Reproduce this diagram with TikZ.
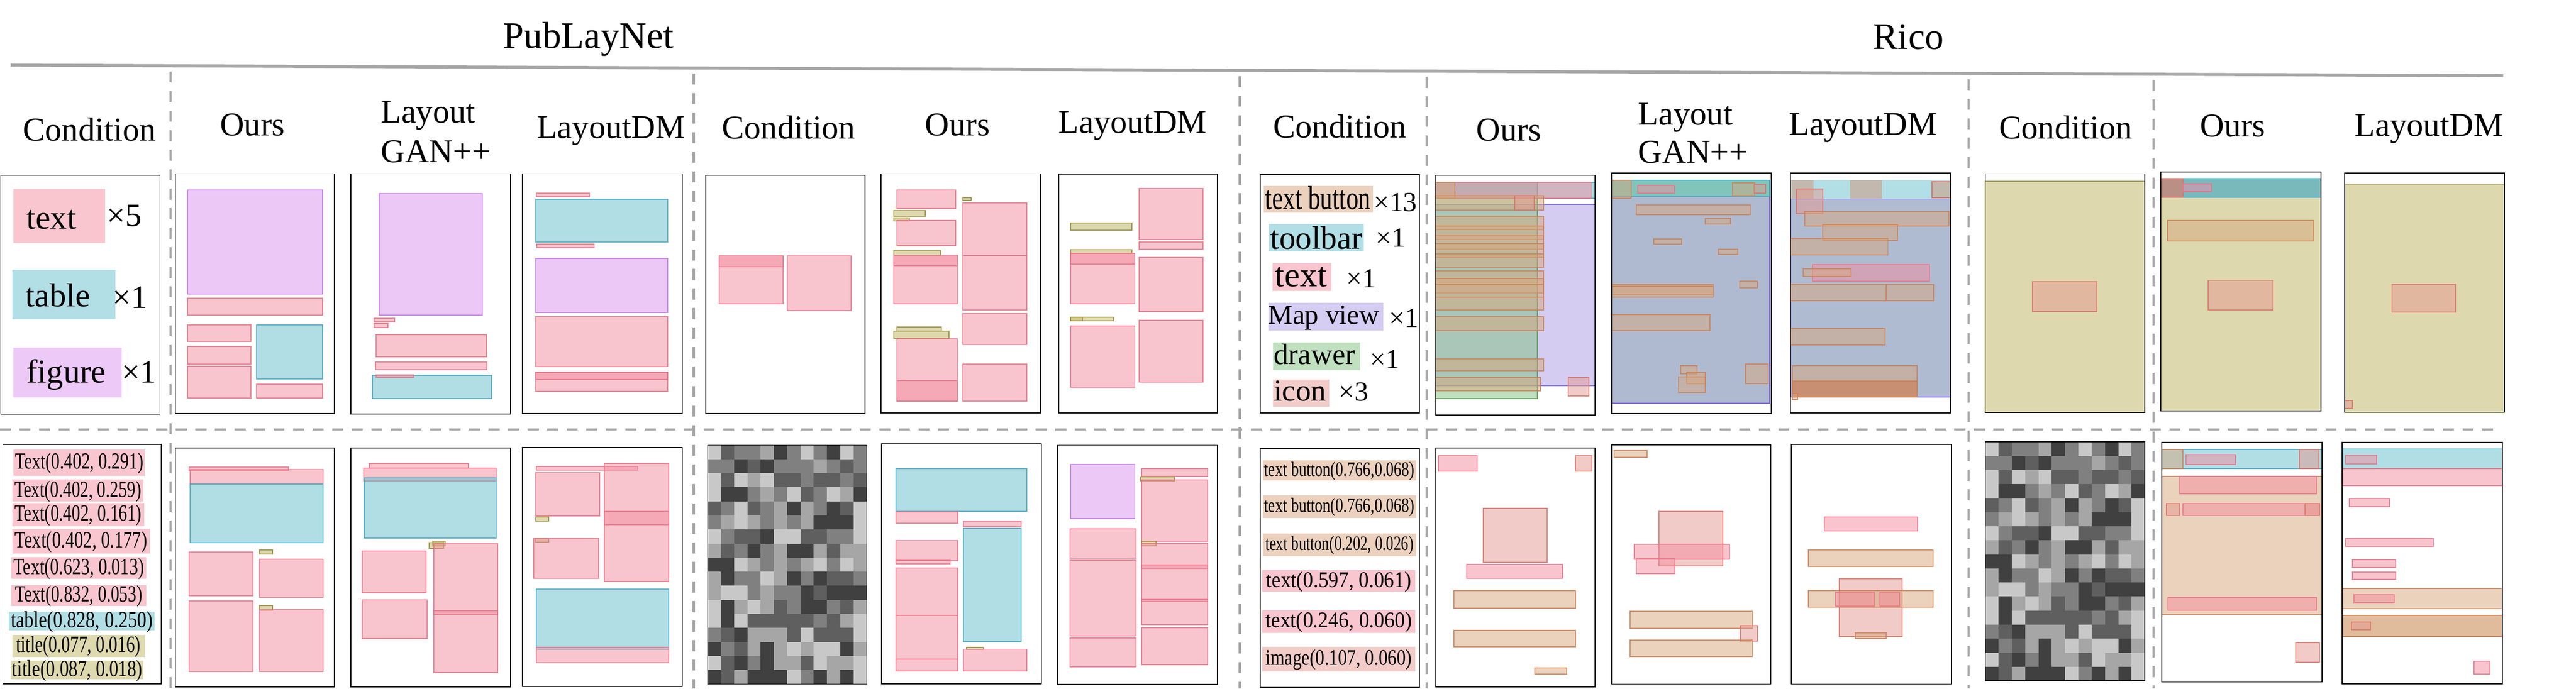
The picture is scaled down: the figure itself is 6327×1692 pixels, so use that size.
\documentclass[tikz,border=0pt]{standalone}
\usepackage{fontspec}
\usepackage{graphicx}
\setmainfont{Liberation Serif}
\newcommand\fsz[1]{\fontsize{#1}{#1}\selectfont}
\definecolor{pinkB}{RGB}{243,141,159}\definecolor{pinkS}{RGB}{235,115,135}
\definecolor{tealB}{RGB}{101,189,205}\definecolor{tealS}{RGB}{70,170,195}
\definecolor{purB}{RGB}{217,147,239}\definecolor{purS}{RGB}{195,120,230}
\definecolor{oliB}{RGB}{189,179,95}\definecolor{oliS}{RGB}{150,140,60}
\definecolor{peaB}{RGB}{215,167,125}\definecolor{peaS}{RGB}{205,130,85}
\definecolor{lavB}{RGB}{171,155,229}\definecolor{lavS}{RGB}{120,105,225}
\definecolor{greB}{RGB}{129,193,129}\definecolor{greS}{RGB}{80,160,80}
\definecolor{salB}{RGB}{229,153,145}\definecolor{salS}{RGB}{220,115,105}
\definecolor{pinkL}{HTML}{F9C6CF}\definecolor{tealL}{HTML}{B2DEE6}
\definecolor{purL}{HTML}{ECC9F7}\definecolor{oliL}{HTML}{DED9AF}
\definecolor{peaL}{HTML}{EBD1BE}\definecolor{lavL}{HTML}{D5CDF2}
\definecolor{greL}{HTML}{C0E0C0}\definecolor{salL}{HTML}{F2CCC8}
\definecolor{gline}{HTML}{A6A6A6}
\definecolor{slateA}{RGB}{175,186,208}\definecolor{topteal}{RGB}{128,196,186}
\definecolor{slateB}{RGB}{175,187,209}\definecolor{pgray}{RGB}{194,184,174}
\definecolor{dorange}{RGB}{201,143,114}\definecolor{ourteal}{RGB}{121,185,187}
\definecolor{mbrown}{RGB}{185,143,134}\definecolor{lpink}{RGB}{183,162,181}
\definecolor{nzD}{HTML}{404040}\definecolor{nzM}{HTML}{5F5F5F}
\definecolor{nzG}{HTML}{808080}\definecolor{nzL}{HTML}{A6A6A6}
\definecolor{nzW}{HTML}{C8C8C8}
\tikzset{
  frame/.style={draw=black,line width=0.22mm},
  bxs/.style={line width=0.25mm,fill opacity=0.5,draw opacity=0.85},
  pk/.style={bxs,fill=pinkB,draw=pinkS},
  tl/.style={bxs,fill=tealB,draw=tealS},
  pu/.style={bxs,fill=purB,draw=purS},
  ol/.style={bxs,fill=oliB,draw=oliS},
  pe/.style={bxs,fill=peaB,draw=peaS},
  lv/.style={bxs,fill=lavB,draw=lavS},
  gr/.style={bxs,fill=greB,draw=greS},
  sa/.style={bxs,fill=salB,draw=salS},
  opq/.style={line width=0.25mm},
  dline/.style={draw=gline,line width=0.55mm,dash pattern=on 2.7mm off 2.1mm},
  hdr/.style={anchor=base,inner sep=0pt,font=\fsz{23.3}},
  hdrw/.style={anchor=base west,inner sep=0pt,font=\fsz{23.3}},
  lab/.style={anchor=center,inner sep=0pt},
}
\def\nzrows{{W,M,G,G,L,D,G,W,G,D,W,G},{G,G,D,M,D,G,G,G,L,G,M,G},{W,M,W,L,W,M,M,G,M,M,G,M},{W,D,D,G,L,G,W,M,G,W,L,D},{M,G,W,M,G,L,D,L,G,D,M,W},{G,L,W,L,G,L,G,L,D,D,D,W},{W,G,M,M,D,W,W,M,M,G,G,W},{L,M,G,D,G,L,D,D,L,M,L,L},{D,D,W,L,G,L,G,L,W,G,W,L},{L,D,G,G,W,L,D,G,D,M,M,G},{L,W,W,G,L,G,G,D,M,D,D,D},{W,D,L,W,L,M,G,D,D,G,M,L},{W,D,W,M,M,M,M,M,G,M,L,W},{G,M,D,L,L,L,M,W,M,M,M,W},{D,G,M,L,D,L,W,L,W,W,D,L},{W,M,D,G,D,L,L,M,W,L,L,W},{D,M,L,D,D,D,W,G,D,L,D,W}}
\newcommand\noisegrid[4]{%
  \foreach \row [count=\i] in \nzrows {
    \foreach \c [count=\j] in \row {
      \fill[nz\c] ({#1+(\j-1)*#3/12},{#2+(\i-1)*#4/17}) rectangle ++({#3/12+0.6},{#4/17+0.6});
    }
  }
}
\begin{document}
\begin{tikzpicture}[x=0.1mm,y=-0.1mm]
\useasboundingbox (0,0) rectangle (6327,1692);
\fill[white] (0,0) rectangle (6327,1692);

% ---------- titles and rules
\node[anchor=base,inner sep=0pt] (tPub) at (1445,118) {\fsz{26.2}PubLayNet};
\node[anchor=base,inner sep=0pt] (tRico) at (4687,121) {\fsz{26.2}Rico};
\coordinate (gL) at (26,160); \coordinate (gR) at (6148,186);
\draw[gline,line width=0.75mm] (gL) -- (gR);
\foreach \xx in {419,1704,3045,3504,4835,5289}{
  \draw[dline] (\xx,{160+(\xx-26)*0.00425+14}) -- (\xx,1692);
}
\coordinate (hL) at (0,1055); \coordinate (hR) at (6143,1055);
\draw[dline] (hL) -- (hR);

% ---------- headers
\node[hdr] (h1) at (220,346) {Condition};
\node[hdr] (h2) at (620,333) {Ours};
\node[hdrw] (h3a) at (935,302) {Layout};
\node[hdrw] (h3b) at (935,399) {GAN++};
\node[hdr] (h4) at (1501,340) {LayoutDM};
\node[hdr] (h5) at (1937,341) {Condition};
\node[hdr] (h6) at (2352,333) {Ours};
\node[hdr] (h7) at (2782,327) {LayoutDM};
\node[hdr] (h8) at (3291,338) {Condition};
\node[hdr] (h9) at (3706,346) {Ours};
\node[hdrw] (h10a) at (4023,307) {Layout};
\node[hdrw] (h10b) at (4023,401) {GAN++};
\node[hdr] (h11) at (4576,332) {LayoutDM};
\node[hdr] (h12) at (5074,341) {Condition};
\node[hdr] (h13) at (5484,336) {Ours};
\node[hdr] (h14) at (5966,335) {LayoutDM};

% ---------- PubLayNet row 1 condition
\fill[pinkL] (33,465) rectangle (258,597);
\node[anchor=base west,inner sep=0pt] (c1a) at (64,563) {\fsz{23.3}text};
\node[anchor=base west,inner sep=0pt] (c1ax) at (262,556) {\fsz{22.8}×5};
\fill[tealL] (30,663) rectangle (284,784);
\node[anchor=base west,inner sep=0pt] (c1b) at (62,753) {\fsz{23.3}table};
\node[anchor=base west,inner sep=0pt] (c1bx) at (276,757) {\fsz{22.8}×1};
\fill[purL] (33,854) rectangle (299,977);
\node[anchor=base west,inner sep=0pt] (c1c) at (64,941) {\fsz{23.3}figure};
\node[anchor=base west,inner sep=0pt] (c1cx) at (298,941) {\fsz{22.8}×1};

% Ours
\draw[pu] (460,467) rectangle (792,723);
\draw[pk] (460,733) rectangle (792,774);
\draw[pk] (460,798) rectangle (616,839);
\draw[pk] (460,852) rectangle (616,895);
\draw[pk] (460,900) rectangle (616,978);
\draw[tl] (630,798) rectangle (792,931);
\draw[pk] (630,944) rectangle (792,978);
% GAN++
\draw[pu] (931,476) rectangle (1184,774);
\draw[pk] (919,782) rectangle (969,791);
\draw[pk] (919,795) rectangle (953,805);
\draw[pk] (924,823) rectangle (1194,877);
\draw[pk] (923,889) rectangle (1196,908);
\draw[tl] (915,923) rectangle (1207,980);
\draw[pk] (924,921) rectangle (1016,927);
% LayoutDM
\draw[pk] (1317,474) rectangle (1448,483);
\draw[tl] (1316,490) rectangle (1640,595);
\draw[pk] (1319,600) rectangle (1459,609);
\draw[pu] (1316,635) rectangle (1640,768);
\draw[pk] (1316,778) rectangle (1640,901);
\draw[pk] (1316,915) rectangle (1640,962);
\draw[pk] (1316,915) rectangle (1640,932);

% ---------- PubLayNet group 2 row 1
\draw[pk] (1767,629) rectangle (1923,746);
\draw[pk] (1767,629) rectangle (1923,656);
\draw[pk] (1934,629) rectangle (2091,763);
% Ours
\draw[pk] (2203,467) rectangle (2347,512);
\draw[ol] (2365,486) rectangle (2385,492);
\draw[pk] (2365,498) rectangle (2522,628);
\draw[pk] (2365,628) rectangle (2522,762);
\draw[ol] (2196,517) rectangle (2273,532);
\draw[ol] (2196,535) rectangle (2233,543);
\draw[pk] (2203,542) rectangle (2347,604);
\draw[ol] (2196,616) rectangle (2310,628);
\draw[pk] (2196,627) rectangle (2351,746);
\draw[pk] (2196,627) rectangle (2351,653);
\draw[pk] (2365,771) rectangle (2522,847);
\draw[ol] (2203,804) rectangle (2312,813);
\draw[ol] (2196,814) rectangle (2331,831);
\draw[pk] (2203,832) rectangle (2351,986);
\draw[pk] (2203,935) rectangle (2351,986);
\draw[pk] (2365,895) rectangle (2522,986);
% LayoutDM
\draw[pk] (2798,463) rectangle (2955,588);
\draw[ol] (2630,548) rectangle (2780,565);
\draw[pk] (2798,595) rectangle (2955,612);
\draw[ol] (2630,614) rectangle (2780,623);
\draw[pk] (2630,623) rectangle (2787,747);
\draw[pk] (2630,623) rectangle (2787,649);
\draw[pk] (2798,633) rectangle (2955,766);
\draw[ol] (2630,780) rectangle (2735,788);
\draw[ol] (2630,780) rectangle (2659,788);
\draw[pk] (2630,801) rectangle (2787,952);
\draw[pk] (2798,787) rectangle (2955,939);

% ---------- Rico row 1 condition
\fill[peaL] (3104,457) rectangle (3372,523);
\node[anchor=base west,inner sep=0pt] (r1a) at (3107,515) {\resizebox{25.9mm}{\height}{\fsz{23.3}text button}};
\node[anchor=base west,inner sep=0pt] (r1ax) at (3374,520) {\fsz{19.3}×13};
\fill[tealL] (3117,551) rectangle (3349,617);
\node[anchor=base west,inner sep=0pt] (r1b) at (3119,612) {\fsz{22.8}toolbar};
\node[anchor=base west,inner sep=0pt] (r1bx) at (3379,607) {\fsz{19.3}×1};
\fill[pinkL] (3125,646) rectangle (3270,715);
\node[anchor=base west,inner sep=0pt] (r1c) at (3131,704) {\fsz{24.2}text};
\node[anchor=base west,inner sep=0pt] (r1cx) at (3307,707) {\fsz{19.3}×1};
\fill[lavL] (3115,744) rectangle (3398,812);
\node[anchor=base west,inner sep=0pt] (r1d) at (3114,796) {\fsz{19.3}Map view};
\node[anchor=base west,inner sep=0pt] (r1dx) at (3411,804) {\fsz{19.3}×1};
\fill[greL] (3127,841) rectangle (3340,910);
\node[anchor=base west,inner sep=0pt] (r1e) at (3128,895) {\fsz{20.5}drawer};
\node[anchor=base west,inner sep=0pt] (r1ex) at (3364,906) {\fsz{19.3}×1};
\fill[salL] (3127,932) rectangle (3265,1000);
\node[anchor=base west,inner sep=0pt] (r1f) at (3128,985) {\fsz{21.3}icon};
\node[anchor=base west,inner sep=0pt] (r1fx) at (3288,985) {\fsz{19.3}×3};

% Rico Ours 1
\draw[lv] (3526,502) rectangle (3918,948);
\draw[gr] (3526,448) rectangle (3776,979);
\draw[tl] (3526,448) rectangle (3918,487);
\draw[pk] (3526,448) rectangle (3907,487);
\draw[pe] (3526,448) rectangle (3574,487);
\draw[pe] (3526,481) rectangle (3791,516);
\draw[sa] (3720,481) rectangle (3768,516);
\foreach \ya/\yb in {531/564,555/588,580/613,599/633,624/657,665/699,685/720,699/730,730/762,778/812,882/911}{
  \draw[pe] (3526,\ya) rectangle (3791,\yb);
}
\draw[pe] (3526,927) rectangle (3783,961);
\draw[sa] (3852,927) rectangle (3903,973);

% Rico GAN++ 1
\filldraw[opq,fill=slateA,draw=lavS] (3958,443) rectangle (4347,991);
\filldraw[opq,fill=topteal,draw=tealS] (3958,443) rectangle (4347,482);
\draw[pe] (3958,443) rectangle (4006,487);
\draw[pk] (4023,455) rectangle (4112,475);
\draw[pe] (4256,449) rectangle (4310,481);
\draw[sa] (4308,453) rectangle (4337,475);
\draw[pe] (4019,503) rectangle (4298,528);
\draw[pe] (4188,537) rectangle (4250,550);
\draw[pe] (4062,587) rectangle (4130,600);
\draw[pe] (4220,613) rectangle (4268,625);
\draw[pe] (4273,691) rectangle (4316,707);
\draw[pe] (3958,698) rectangle (4208,724);
\draw[pe] (3958,704) rectangle (4208,730);
\draw[pe] (3958,773) rectangle (4200,812);
\draw[pe] (4128,898) rectangle (4168,919);
\draw[pe] (4143,915) rectangle (4188,943);
\draw[pe] (4122,926) rectangle (4188,964);
\draw[pe] (4287,894) rectangle (4343,943);

% Rico LayoutDM 1
\filldraw[opq,fill=slateB,draw=lavS] (4399,488) rectangle (4791,975);
\fill[tealL] (4399,443) rectangle (4791,488);
\fill[pgray] (4399,443) rectangle (4454,488);
\fill[pgray] (4544,443) rectangle (4622,488);
\filldraw[opq,fill=pgray,draw=salS] (4745,447) rectangle (4791,486);
\draw[sa] (4412,465) rectangle (4477,525);
\draw[pe] (4433,520) rectangle (4787,556);
\draw[pe] (4477,552) rectangle (4661,591);
\draw[pe] (4399,586) rectangle (4637,626);
\draw[pk] (4452,650) rectangle (4739,691);
\draw[pe] (4429,660) rectangle (4547,679);
\draw[pe] (4399,699) rectangle (4633,739);
\draw[pe] (4633,699) rectangle (4749,739);
\draw[pe] (4399,807) rectangle (4630,848);
\draw[pe] (4402,898) rectangle (4708,936);
\filldraw[opq,fill=dorange,draw=peaS] (4402,936) rectangle (4708,975);
\draw[pe] (4402,967) rectangle (4415,982);

% Rico group 2 row 1
\draw[ol] (4876,445) rectangle (5268,1014);
\draw[sa] (4992,692) rectangle (5150,766);
% Ours
\draw[ol] (5307,439) rectangle (5701,1010);
\filldraw[opq,fill=ourteal,draw=tealS] (5362,439) rectangle (5701,485);
\filldraw[opq,fill=mbrown,draw=salS] (5307,439) rectangle (5362,485);
\filldraw[opq,fill=lpink,draw=pinkS] (5362,452) rectangle (5431,471);
\draw[pe] (5323,541) rectangle (5683,592);
\draw[sa] (5423,689) rectangle (5583,762);
% LayoutDM
\draw[ol] (5759,454) rectangle (6151,1013);
\draw[sa] (5875,699) rectangle (6031,767);
\draw[sa] (5759,985) rectangle (5778,1004);

% ---------- PubLayNet row 2 condition
\foreach \nm/\xa/\ya/\xb/\yb/\cc/\ww/\tt in {
  p1/33/1105/356/1169/pinkL/31.5/{Text(0.402, 0.291)},
  p2/31/1178/352/1233/pinkL/31.2/{Text(0.402, 0.259)},
  p3/30/1236/354/1293/pinkL/31.2/{Text(0.402, 0.161)},
  p4/30/1300/368/1360/pinkL/32.5/{Text(0.402, 0.177)},
  p5/28/1369/359/1422/pinkL/32.0/{Text(0.623, 0.013)},
  p6/28/1438/359/1489/pinkL/31.2/{Text(0.832, 0.053)},
  p7/22/1503/380/1549/tealL/34.8/{table(0.828, 0.250)},
  p8/30/1560/355/1615/oliL/30.6/{title(0.077, 0.016)},
  p9/28/1623/352/1669/oliL/32.0/{title(0.087, 0.018)}}{
  \fill[\cc] (\xa,\ya) rectangle (\xb,\yb);
  \node[lab] (\nm) at ({(\xa+\xb)/2},{(\ya+\yb)/2+2}) {\resizebox{\ww mm}{\height}{\fsz{16.2}\tt}};
}
% Ours
\draw[pk] (464,1148) rectangle (709,1157);
\draw[pk] (467,1154) rectangle (794,1189);
\draw[tl] (467,1189) rectangle (794,1334);
\draw[pk] (464,1357) rectangle (621,1464);
\draw[ol] (638,1351) rectangle (669,1361);
\draw[pk] (638,1374) rectangle (794,1468);
\draw[pk] (464,1477) rectangle (621,1650);
\draw[ol] (638,1488) rectangle (669,1499);
\draw[pk] (638,1498) rectangle (794,1650);
% GAN++
\draw[pk] (907,1139) rectangle (1150,1150);
\draw[pk] (893,1150) rectangle (1218,1182);
\draw[tl] (895,1174) rectangle (1218,1322);
\draw[ol] (1063,1330) rectangle (1093,1341);
\draw[ol] (1054,1334) rectangle (1089,1348);
\draw[pk] (889,1354) rectangle (1047,1457);
\draw[pk] (1065,1336) rectangle (1222,1653);
\draw[pk] (1065,1501) rectangle (1222,1509);
\draw[pk] (890,1474) rectangle (1049,1569);
% LayoutDM
\draw[pk] (1317,1146) rectangle (1566,1155);
\draw[pk] (1484,1139) rectangle (1642,1428);
\draw[pk] (1484,1256) rectangle (1642,1290);
\draw[pk] (1316,1161) rectangle (1473,1268);
\draw[ol] (1316,1271) rectangle (1348,1281);
\draw[ol] (1316,1323) rectangle (1348,1333);
\draw[pk] (1311,1323) rectangle (1470,1421);
\draw[tl] (1317,1448) rectangle (1642,1596);
\draw[pk] (1317,1590) rectangle (1642,1628);

% ---------- PubLayNet group 2 row 2
\noisegrid{1738}{1094}{391}{587}
% Ours
\draw[tl] (2201,1152) rectangle (2522,1257);
\draw[pk] (2201,1258) rectangle (2352,1286);
\draw[pk] (2366,1281) rectangle (2508,1294);
\draw[tl] (2366,1298) rectangle (2508,1577);
\draw[pk] (2201,1328) rectangle (2352,1378);
\draw[pk] (2201,1377) rectangle (2333,1385);
\draw[pk] (2201,1396) rectangle (2352,1512);
\draw[pk] (2201,1512) rectangle (2352,1620);
\draw[pk] (2201,1620) rectangle (2352,1649);
\draw[ol] (2374,1590) rectangle (2415,1596);
\draw[pk] (2366,1595) rectangle (2522,1649);
% LayoutDM
\draw[pu] (2629,1141) rectangle (2787,1274);
\draw[pk] (2804,1152) rectangle (2966,1170);
\draw[ol] (2802,1172) rectangle (2885,1182);
\draw[pk] (2804,1179) rectangle (2966,1330);
\draw[pk] (2628,1300) rectangle (2790,1372);
\draw[ol] (2804,1330) rectangle (2839,1341);
\draw[pk] (2804,1335) rectangle (2966,1397);
\draw[pk] (2804,1388) rectangle (2966,1478);
\draw[pk] (2804,1473) rectangle (2966,1535);
\draw[pk] (2628,1377) rectangle (2790,1563);
\draw[pk] (2628,1568) rectangle (2790,1639);
\draw[pk] (2804,1543) rectangle (2966,1634);

% ---------- Rico row 2 condition
\foreach \nm/\xa/\ya/\xb/\yb/\cc/\ww/\ff/\tt in {
  q1/3101/1131/3478/1181/peaL/37.0/14.2/{text button(0.766,0.068)},
  q2/3101/1217/3478/1273/peaL/37.0/14.2/{text button(0.766,0.068)},
  q3/3102/1311/3478/1366/peaL/36.4/14.2/{text button(0.202, 0.026)},
  q4/3100/1401/3476/1454/pinkL/35.6/15.6/{text(0.597, 0.061)},
  q5/3100/1499/3476/1555/pinkL/35.9/15.6/{text(0.246, 0.060)},
  q6/3100/1589/3476/1650/salL/35.9/15.6/{image(0.107, 0.060)}}{
  \fill[\cc] (\xa,\ya) rectangle (\xb,\yb);
  \node[lab] (\nm) at ({(\xa+\xb)/2},{(\ya+\yb)/2+2}) {\resizebox{\ww mm}{\height}{\fsz{\ff}\tt}};
}
% Ours
\draw[pk] (3533,1120) rectangle (3628,1158);
\draw[sa] (3869,1120) rectangle (3910,1158);
\draw[sa] (3643,1249) rectangle (3800,1382);
\draw[pk] (3603,1387) rectangle (3838,1421);
\draw[pe] (3571,1451) rectangle (3870,1494);
\draw[pe] (3571,1549) rectangle (3870,1589);
\draw[pe] (3770,1641) rectangle (3848,1656);
% GAN++
\draw[pe] (3965,1107) rectangle (4046,1124);
\draw[sa] (4075,1257) rectangle (4231,1391);
\draw[pk] (4014,1337) rectangle (4248,1374);
\draw[pk] (4019,1373) rectangle (4114,1410);
\draw[pe] (4004,1502) rectangle (4303,1544);
\draw[sa] (4275,1538) rectangle (4316,1575);
\draw[pe] (4004,1573) rectangle (4303,1613);
% LayoutDM
\draw[pk] (4481,1271) rectangle (4710,1305);
\draw[pe] (4441,1352) rectangle (4748,1392);
\draw[sa] (4518,1422) rectangle (4672,1564);
\draw[pe] (4441,1452) rectangle (4748,1492);
\draw[pk] (4508,1455) rectangle (4604,1489);
\draw[pk] (4618,1455) rectangle (4665,1489);
\draw[pe] (4557,1555) rectangle (4633,1569);

% ---------- Rico group 2 row 2
\noisegrid{4876}{1086}{392}{587}
% Ours
\draw[pe] (5310,1170) rectangle (5703,1510);
\draw[tl] (5310,1105) rectangle (5703,1151);
\draw[pe] (5310,1105) rectangle (5362,1151);
\draw[sa] (5647,1105) rectangle (5695,1151);
\draw[pk] (5369,1117) rectangle (5490,1141);
\draw[pk] (5354,1171) rectangle (5689,1213);
\draw[pk] (5361,1237) rectangle (5697,1267);
\draw[sa] (5321,1237) rectangle (5354,1267);
\draw[sa] (5661,1237) rectangle (5697,1267);
\draw[pk] (5325,1468) rectangle (5689,1499);
\draw[sa] (5638,1579) rectangle (5697,1627);
% LayoutDM
\draw[tl] (5752,1103) rectangle (6146,1151);
\draw[pk] (5761,1118) rectangle (5837,1140);
\draw[pk] (5752,1151) rectangle (6146,1193);
\draw[pk] (5770,1225) rectangle (5869,1245);
\draw[pk] (5761,1323) rectangle (5976,1343);
\draw[pk] (5778,1375) rectangle (5884,1394);
\draw[pk] (5778,1406) rectangle (5884,1424);
\draw[pe] (5752,1446) rectangle (6146,1496);
\draw[pk] (5782,1461) rectangle (5880,1480);
\draw[pe] (5752,1512) rectangle (6146,1564);
\draw[pe] (5752,1512) rectangle (6146,1564);
\draw[sa] (5775,1528) rectangle (5822,1548);
\draw[pk] (6076,1625) rectangle (6115,1656);

% ---------- frames
\foreach \xa/\ya/\xb/\yb in {2/431/393/1018, 431/427/821/1016, 862/427/1254/1017, 1283/427/1676/1016,
  1734/431/2125/1016, 2164/427/2556/1015, 2600/428/2990/1015,
  3095/429/3486/1015, 3526/431/3918/1020, 3958/425/4350/1016, 4398/425/4791/1015,
  4876/427/5268/1014, 5307/423/5701/1010, 5759/425/6151/1013,
  7/1092/396/1680, 431/1101/821/1688, 862/1101/1254/1688, 1283/1100/1676/1687,
  1738/1094/2129/1681, 2165/1091/2558/1680, 2598/1094/2990/1682,
  3095/1102/3486/1689, 3526/1101/3918/1688, 3958/1093/4349/1681, 4400/1092/4793/1681,
  4876/1086/5268/1673, 5310/1087/5703/1676, 5752/1087/6146/1680}{
  \draw[frame] (\xa,\ya) rectangle (\xb,\yb);
}
\end{tikzpicture}
\end{document}
